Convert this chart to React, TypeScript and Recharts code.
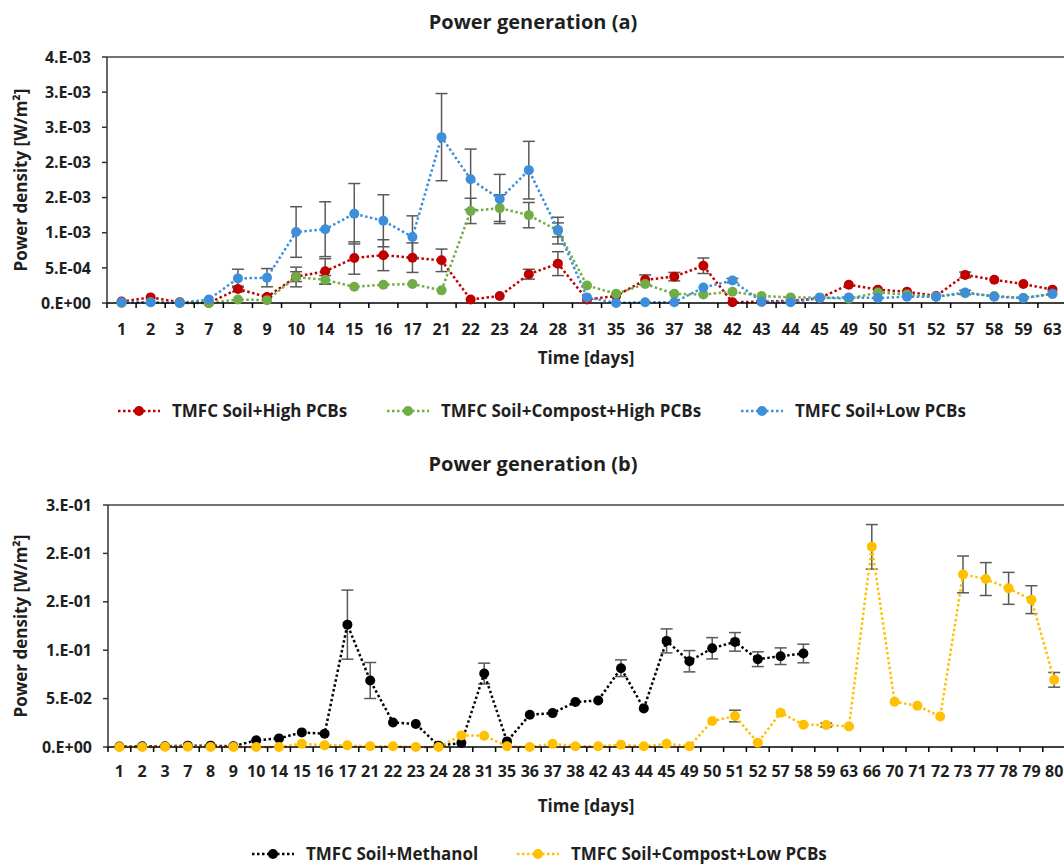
import React from 'react';
import { LineChart, Line, XAxis, YAxis, ErrorBar, ReferenceLine } from 'recharts';

// ---- chart (a) ----
const daysA = ['1', '2', '3', '7', '8', '9', '10', '14', '15', '16', '17', '21', '22', '23', '24', '28', '31', '35', '36', '37', '38', '42', '43', '44', '45', '49', '50', '51', '52', '57', '58', '59', '63'];
const soilHigh = [0.00002, 0.00008, 0.00001, 0.0, 0.0002, 0.000085, 0.000375, 0.00045, 0.00064, 0.00068, 0.000645, 0.000607, 0.00005, 0.0001, 0.00041, 0.00056, 0.00005, 0.0001, 0.00033, 0.000375, 0.00053, 0.00001, 0.00002, 0.00003, 0.00007, 0.00026, 0.00019, 0.00016, 0.0001, 0.0004, 0.00033, 0.00027, 0.00019];
const soilHighErr = [0, 0, 0, 0, 0.00004, 0, 0.00007, 0.00018, 0.00023, 0.00022, 0.00021, 0.00016, 0, 0, 0.00007, 0.00017, 0, 0, 0.00007, 0.00006, 0.00011, 0, 0, 0, 0, 0, 0, 0, 0, 0.00004, 0, 0, 0];
const compostHigh = [0.0, 0.00001, 0.0, 0.0, 0.00005, 0.00004, 0.00037, 0.00033, 0.00023, 0.00026, 0.00027, 0.00018, 0.00131, 0.00135, 0.00125, 0.00103, 0.00025, 0.00013, 0.00027, 0.00013, 0.00012, 0.00016, 0.0001, 0.00008, 0.00008, 0.00006, 0.00015, 0.00012, 0.00009, 0.00014, 0.0001, 0.00007, 0.00013];
const compostHighErr = [0, 0, 0, 0, 0, 0, 0.00014, 0.00006, 0, 0, 0, 0, 0.00018, 0.00019, 0.00018, 0.00019, 0, 0, 0, 0, 0, 0, 0, 0, 0, 0, 0, 0, 0, 0, 0, 0, 0];
const soilLow = [0.00001, 0.00001, 0.0, 0.00005, 0.00035, 0.00036, 0.00101, 0.00105, 0.00127, 0.00117, 0.00094, 0.00236, 0.00176, 0.00148, 0.00189, 0.00104, 0.00008, 0.0, 0.00001, 0.00001, 0.00022, 0.00032, 0.00002, 0.00001, 0.00007, 0.00008, 0.00007, 0.00009, 0.00009, 0.00015, 0.00009, 0.00007, 0.00013];
const soilLowErr = [0, 0, 0, 0, 0.00013, 0.00013, 0.00036, 0.00039, 0.00043, 0.00037, 0.0003, 0.00062, 0.00043, 0.00035, 0.00041, 0.0001, 0, 0, 0, 0, 0, 0.00003, 0, 0, 0, 0, 0, 0, 0, 0.00003, 0, 0, 0];
const yTicksA = [0, 0.0005, 0.001, 0.0015, 0.002, 0.0025, 0.003, 0.0035];
const yLabelsA = ['0.E+00', '5.E-04', '1.E-03', '2.E-03', '2.E-03', '3.E-03', '3.E-03', '4.E-03'];

// ---- chart (b) ----
const daysB = ['1', '2', '3', '7', '8', '9', '10', '14', '15', '16', '17', '21', '22', '23', '24', '28', '31', '35', '36', '37', '38', '42', '43', '44', '45', '49', '50', '51', '52', '57', '58', '59', '63', '66', '70', '71', '72', '73', '77', '78', '79', '80'];
const methanol = [0.0005, 0.0007, 0.0007, 0.0014, 0.0014, 0.0007, 0.0069, 0.0089, 0.0151, 0.0137, 0.1264, 0.0687, 0.0254, 0.0237, 0.0014, 0.0041, 0.0759, 0.0058, 0.0333, 0.035, 0.0464, 0.0481, 0.0814, 0.0399, 0.1096, 0.0886, 0.102, 0.1086, 0.0907, 0.0938, 0.0966, null, null, null, null, null, null, null, null, null, null, null];
const methanolErr = [0, 0, 0, 0, 0, 0, 0, 0, 0, 0, 0.0357, 0.0186, 0, 0, 0, 0, 0.0107, 0, 0, 0, 0, 0, 0.0086, 0, 0.0124, 0.011, 0.011, 0.0096, 0.0076, 0.0086, 0.0096, 0, 0, 0, 0, 0, 0, 0, 0, 0, 0, 0];
const compostLow = [0.0, 0.0, 0.0003, 0.0003, 0.0, 0.0, 0.0, 0.0, 0.0034, 0.0017, 0.0017, 0.0007, 0.0007, 0.0, 0.0, 0.012, 0.0117, 0.0007, 0.0, 0.0034, 0.0007, 0.0007, 0.0024, 0.0007, 0.0034, 0.0007, 0.0268, 0.032, 0.0045, 0.0354, 0.023, 0.0227, 0.0213, 0.2068, 0.0467, 0.0426, 0.0316, 0.1783, 0.1735, 0.1639, 0.1522, 0.0694];
const compostLowErr = [0, 0, 0, 0, 0, 0, 0, 0, 0, 0, 0, 0, 0, 0, 0, 0, 0, 0, 0, 0, 0, 0, 0, 0, 0, 0, 0, 0.006, 0, 0, 0, 0.002, 0, 0.023, 0, 0, 0, 0.019, 0.017, 0.0165, 0.0144, 0.0076];
const yTicksB = [0, 0.05, 0.1, 0.15, 0.2, 0.25];
const yLabelsB = ['0.E+00', '5.E-02', '1.E-01', '2.E-01', '2.E-01', '3.E-01'];

const FONT = "'Open Sans', 'Noto Sans', sans-serif";
const TEXT = '#1f1f1f';
const ERR = '#595959';

const dataA = daysA.map((d, i) => ({
  day: d,
  high: soilHigh[i], highErr: soilHighErr[i],
  compost: compostHigh[i], compostErr: compostHighErr[i],
  low: soilLow[i], lowErr: soilLowErr[i],
}));

const dataB = daysB.map((d, i) => ({
  day: d,
  meth: methanol[i], methErr: methanolErr[i],
  clow: compostLow[i], clowErr: compostLowErr[i],
}));

function BandTick(props: any) {
  const { x, y, payload, bw, dy, last } = props;
  return (
    <g>
      <line x1={x - bw / 2} x2={x - bw / 2} y1={y} y2={y + 5} stroke="#000" strokeWidth={1.5} />
      {last && <line x1={x + bw / 2} x2={x + bw / 2} y1={y} y2={y + 5} stroke="#000" strokeWidth={1.5} />}
      <text x={x} y={y + dy} textAnchor="middle" fill={TEXT} fontSize={16} fontWeight={700} fontFamily={FONT}>
        {payload.value}
      </text>
    </g>
  );
}

function LegendItem({ left, top, color, label }: { left: number; top: number; color: string; label: string }) {
  return (
    <div style={{ position: 'absolute', left, top: top - 11, height: 22, display: 'flex', alignItems: 'center', whiteSpace: 'nowrap' }}>
      <svg width={44} height={14}>
        <line x1={1} x2={43} y1={7} y2={7} stroke={color} strokeWidth={2.5} strokeDasharray="2.5 2.5" />
        <circle cx={22} cy={7} r={5} fill={color} />
      </svg>
      <span style={{ marginLeft: 11, fontFamily: FONT, fontWeight: 700, fontSize: 17, lineHeight: '22px', color: TEXT }}>{label}</span>
    </div>
  );
}

const centerText = (x: number, y: number, text: string, size: number, rotate = false) => (
  <div
    style={{
      position: 'absolute', left: x, top: y,
      transform: `translate(-50%, -50%)${rotate ? ' rotate(-90deg)' : ''}`,
      fontFamily: FONT, fontWeight: 700, fontSize: size, color: TEXT, whiteSpace: 'nowrap',
    }}
  >
    {text}
  </div>
);

const dotStyle = (c: string) => ({ r: 5, fill: c, stroke: c, strokeWidth: 0 });

export default function App() {
  const plotWA = 960;
  const bwA = plotWA / daysA.length;
  const plotWB = 957.6;
  const bwB = plotWB / daysB.length;

  return (
    <div style={{ position: 'fixed', left: 0, top: 0, width: 1064, height: 865, overflow: 'hidden', background: '#fff' }}>
      {centerText(533, 21, 'Power generation (a)', 20)}
      {centerText(20, 180, 'Power density [W/m²]', 17, true)}
      <div style={{ position: 'absolute', left: 0, top: 0 }}>
        <LineChart width={1080} height={340} data={dataA} margin={{ top: 57, right: 13, bottom: 0, left: 0 }}>
          <XAxis
            dataKey="day"
            interval={0}
            height={37}
            padding={{ left: bwA / 2, right: bwA / 2 }}
            tickSize={0}
            tickMargin={0}
            tickLine={false}
            axisLine={{ stroke: '#000', strokeWidth: 1.5 }}
            tick={(p: any) => <BandTick {...p} bw={bwA} dy={32} last={p.index === daysA.length - 1} />}
          />
          <YAxis
            width={107}
            domain={[0, 0.0035]}
            ticks={yTicksA}
            tickFormatter={(v: number) => yLabelsA[yTicksA.indexOf(v)] ?? ''}
            tickSize={5}
            tickMargin={11}
            axisLine={{ stroke: '#333', strokeWidth: 1.5 }}
            tickLine={{ stroke: '#333', strokeWidth: 1.5 }}
            tick={{ fill: TEXT, fontSize: 16, fontWeight: 700, fontFamily: FONT }}
          />
          <ReferenceLine y={0.0035} stroke="#444" strokeWidth={1.5} />
          <Line dataKey="high" stroke="#C00000" strokeWidth={2.5} strokeDasharray="2.5 2.5" dot={dotStyle('#C00000')} activeDot={false} isAnimationActive={false}>
            <ErrorBar dataKey="highErr" width={6} stroke={ERR} strokeWidth={1.5} direction="y" isAnimationActive={false} />
          </Line>
          <Line dataKey="compost" stroke="#70AD47" strokeWidth={2.5} strokeDasharray="2.5 2.5" dot={dotStyle('#70AD47')} activeDot={false} isAnimationActive={false}>
            <ErrorBar dataKey="compostErr" width={6} stroke={ERR} strokeWidth={1.5} direction="y" isAnimationActive={false} />
          </Line>
          <Line dataKey="low" stroke="#3D8FDB" strokeWidth={2.5} strokeDasharray="2.5 2.5" dot={dotStyle('#3D8FDB')} activeDot={false} isAnimationActive={false}>
            <ErrorBar dataKey="lowErr" width={6} stroke={ERR} strokeWidth={1.5} direction="y" isAnimationActive={false} />
          </Line>
        </LineChart>
      </div>
      {centerText(586, 357, 'Time [days]', 17)}
      <LegendItem left={117} top={411} color="#C00000" label="TMFC Soil+High PCBs" />
      <LegendItem left={386} top={411} color="#70AD47" label="TMFC Soil+Compost+High PCBs" />
      <LegendItem left={740} top={411} color="#3D8FDB" label="TMFC Soil+Low PCBs" />

      {centerText(533, 463, 'Power generation (b)', 20)}
      {centerText(20, 626, 'Power density [W/m²]', 17, true)}
      <div style={{ position: 'absolute', left: 0, top: 448 }}>
        <LineChart width={1080} height={339} data={dataB} margin={{ top: 57, right: 14.4, bottom: 0, left: 0 }}>
          <XAxis
            dataKey="day"
            interval={0}
            height={40}
            padding={{ left: bwB / 2, right: bwB / 2 }}
            tickSize={0}
            tickMargin={0}
            tickLine={false}
            axisLine={{ stroke: '#000', strokeWidth: 1.5 }}
            tick={(p: any) => <BandTick {...p} bw={bwB} dy={30} last={p.index === daysB.length - 1} />}
          />
          <YAxis
            width={108}
            domain={[0, 0.25]}
            ticks={yTicksB}
            tickFormatter={(v: number) => yLabelsB[yTicksB.indexOf(v)] ?? ''}
            tickSize={5}
            tickMargin={11}
            axisLine={{ stroke: '#333', strokeWidth: 1.5 }}
            tickLine={{ stroke: '#333', strokeWidth: 1.5 }}
            tick={{ fill: TEXT, fontSize: 16, fontWeight: 700, fontFamily: FONT }}
          />
          <ReferenceLine y={0.25} stroke="#444" strokeWidth={1.5} />
          <Line dataKey="meth" stroke="#000" strokeWidth={2.5} strokeDasharray="2.5 2.5" dot={dotStyle('#000')} activeDot={false} connectNulls={false} isAnimationActive={false}>
            <ErrorBar dataKey="methErr" width={6} stroke={ERR} strokeWidth={1.5} direction="y" isAnimationActive={false} />
          </Line>
          <Line dataKey="clow" stroke="#FFC000" strokeWidth={2.5} strokeDasharray="2.5 2.5" dot={dotStyle('#FFC000')} activeDot={false} isAnimationActive={false}>
            <ErrorBar dataKey="clowErr" width={6} stroke={ERR} strokeWidth={1.5} direction="y" isAnimationActive={false} />
          </Line>
        </LineChart>
      </div>
      {centerText(586, 805, 'Time [days]', 17)}
      <LegendItem left={251} top={854} color="#000" label="TMFC Soil+Methanol" />
      <LegendItem left={516} top={854} color="#FFC000" label="TMFC Soil+Compost+Low PCBs" />
    </div>
  );
}
